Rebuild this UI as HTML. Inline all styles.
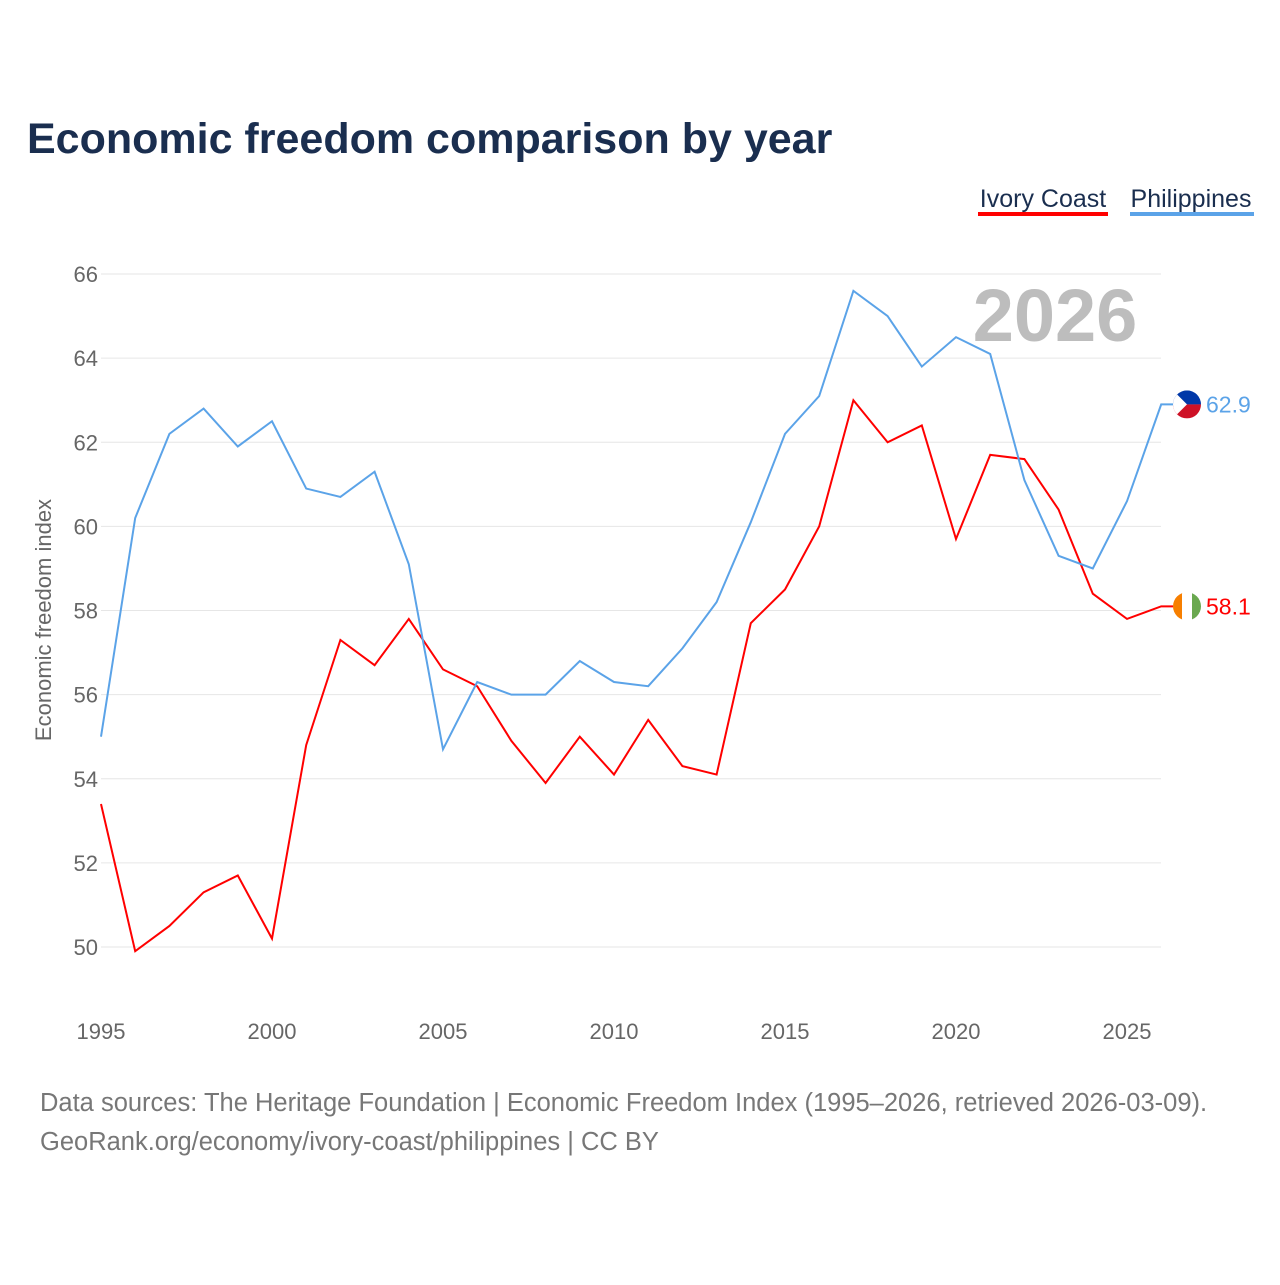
<!DOCTYPE html>
<html><head><meta charset="utf-8"><style>
body{margin:0;background:#fff;width:1280px;height:1280px;overflow:hidden;font-family:"Liberation Sans",sans-serif}
</style></head><body>
<svg width="1280" height="1280" xmlns="http://www.w3.org/2000/svg">
<text x="27" y="153" font-size="43" font-weight="bold" fill="#1a2e4f">Economic freedom comparison by year</text>
<g>
<text x="1043" y="207" font-size="25" fill="#1a2e4f" text-anchor="middle">Ivory Coast</text>
<rect x="978" y="212" width="130" height="4" fill="#ff0000"/>
<text x="1191" y="207" font-size="25" fill="#1a2e4f" text-anchor="middle">Philippines</text>
<rect x="1130" y="212" width="124" height="4" fill="#5ba3e8"/>
</g>
<g id="grid"></g>
<text x="1055" y="341" font-size="74" font-weight="bold" fill="#bdbdbd" text-anchor="middle">2026</text>
<text transform="translate(51,620) rotate(-90)" font-size="22" fill="#666" text-anchor="middle">Economic freedom index</text>
<g id="series"></g>
<text x="40" y="1111" font-size="25.5" fill="#777">Data sources: The Heritage Foundation | Economic Freedom Index (1995–2026, retrieved 2026-03-09).</text>
<text x="40" y="1150" font-size="25.5" fill="#777">GeoRank.org/economy/ivory-coast/philippines | CC BY</text>
</svg>
<script>
const years=[1995,1996,1997,1998,1999,2000,2001,2002,2003,2004,2005,2006,2007,2008,2009,2010,2011,2012,2013,2014,2015,2016,2017,2018,2019,2020,2021,2022,2023,2024,2025,2026];
const philippines=[55.0,60.2,62.2,62.8,61.9,62.5,60.9,60.7,61.3,59.1,54.7,56.3,56.0,56.0,56.8,56.3,56.2,57.1,58.2,60.1,62.2,63.1,65.6,65.0,63.8,64.5,64.1,61.1,59.3,59.0,60.6,62.9];
const ivoryCoast=[53.4,49.9,50.5,51.3,51.7,50.2,54.8,57.3,56.7,57.8,56.6,56.2,54.9,53.9,55.0,54.1,55.4,54.3,54.1,57.7,58.5,60.0,63.0,62.0,62.4,59.7,61.7,61.6,60.4,58.4,57.8,58.1];
const yTicks=[50,52,54,56,58,60,62,64,66];
const xTicks=[1995,2000,2005,2010,2015,2020,2025];
const NS="http://www.w3.org/2000/svg";
const x=v=>101+(v-1995)*34.2;
const y=v=>947-(v-50)*42.06;
function mk(t,a,p){const e=document.createElementNS(NS,t);for(const k in a)e.setAttribute(k,a[k]);p.appendChild(e);return e;}
const grid=document.getElementById('grid');
yTicks.forEach(t=>{
 const l=mk('line',{x1:101,x2:1161,y1:y(t),y2:y(t),stroke:'#e6e6e6','stroke-width':1},grid);
 
 
 const tx=mk('text',{x:98,y:y(t)+8,'font-size':22,fill:'#666','text-anchor':'end'},grid);tx.textContent=t;
 
 
});
xTicks.forEach(t=>{
 const tx=mk('text',{x:x(t),y:1039,'font-size':22,fill:'#666','text-anchor':'middle'},grid);tx.textContent=t;
 
 
});
const s=document.getElementById('series');
function line(vals,col,name){
 const p=mk('polyline',{points:vals.map((v,i)=>x(years[i])+','+y(v)).join(' ')+' '+(x(years[years.length-1])+12)+','+y(vals[vals.length-1]),fill:'none',stroke:col,'stroke-width':2},s);
 
 
}
line(ivoryCoast,'#ff0000','ivory-coast-line');
line(philippines,'#5ba3e8','philippines-line');
const lp=philippines[philippines.length-1], li=ivoryCoast[ivoryCoast.length-1];
const cx=1187;
const g1=mk('g',{},s);


mk('clipPath',{id:'c1'},g1).appendChild(mk('circle',{cx:cx,cy:y(lp),r:14},document.createElementNS(NS,'g')));
mk('rect',{x:cx-14,y:y(lp)-14,width:28,height:14,fill:'#0038a8','clip-path':'url(#c1)'},g1);
mk('rect',{x:cx-14,y:y(lp),width:28,height:14,fill:'#ce1126','clip-path':'url(#c1)'},g1);
mk('path',{d:`M${cx-14} ${y(lp)-14} L${cx} ${y(lp)} L${cx-14} ${y(lp)+14}Z`,fill:'#fff','clip-path':'url(#c1)'},g1);
const t1=mk('text',{x:1206,y:y(lp)+8,'font-size':23,fill:'#5ba3e8'},s);t1.textContent=lp.toFixed(1);


const g2=mk('g',{},s);


mk('clipPath',{id:'c2'},g2).appendChild(mk('circle',{cx:cx,cy:y(li),r:14},document.createElementNS(NS,'g')));
[['#f77f00',-14],['#ffffff',-5],['#6aa84f',5]].forEach(([c,o],i)=>mk('rect',{x:cx+o,y:y(li)-14,width:i==2?9:10,height:28,fill:c,'clip-path':'url(#c2)'},g2));
const t2=mk('text',{x:1206,y:y(li)+8,'font-size':23,fill:'#ff0000'},s);t2.textContent=li.toFixed(1);


</script>
</body></html>
